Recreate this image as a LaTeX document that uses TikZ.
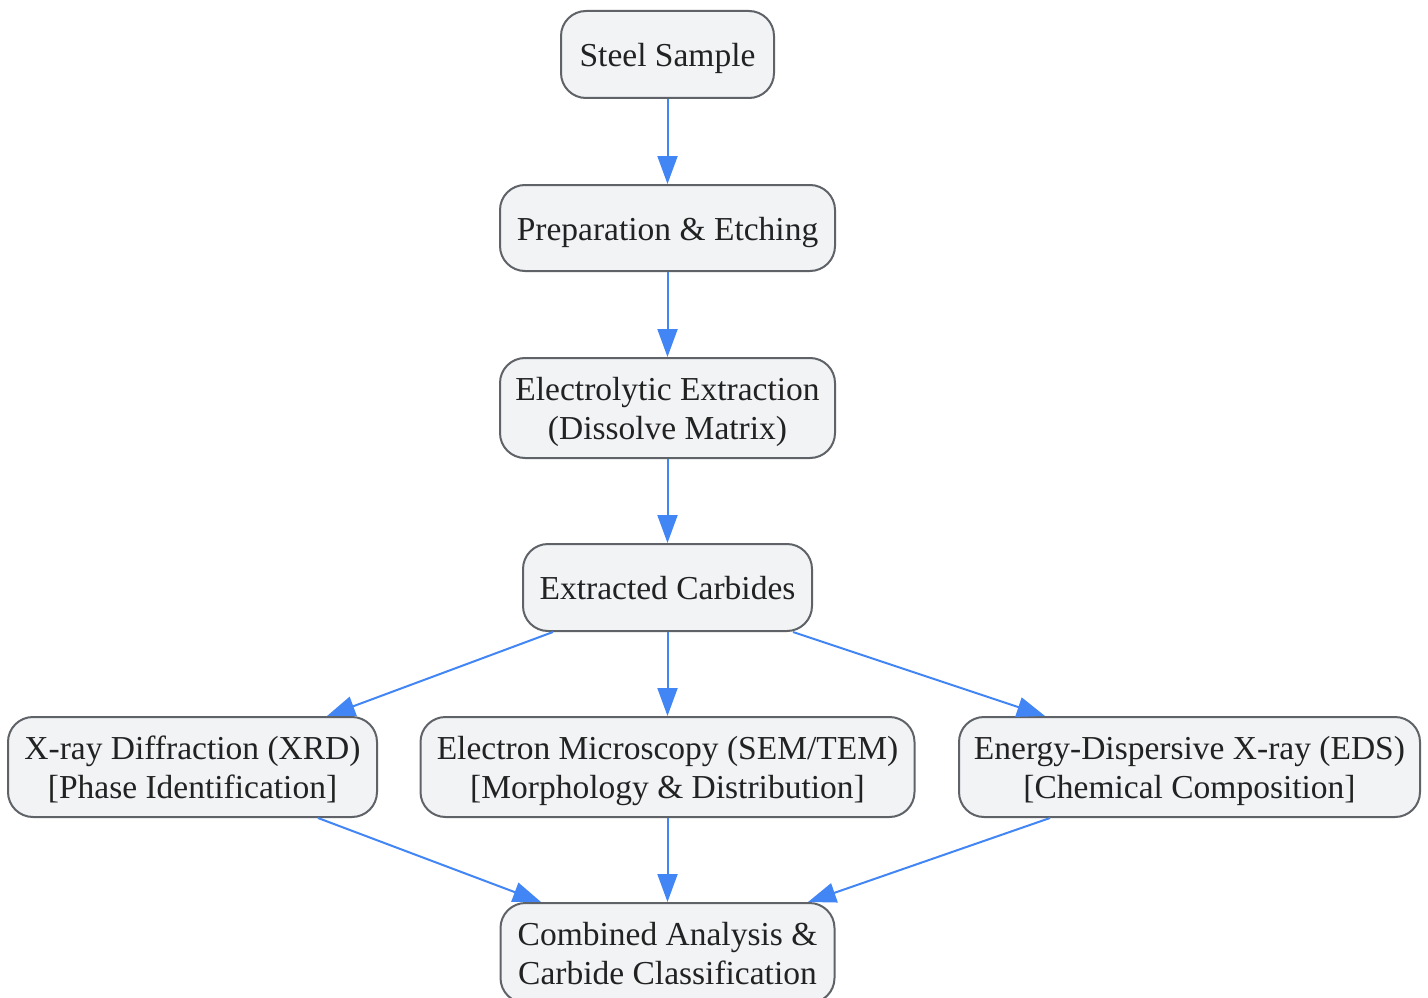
\documentclass[tikz,border=0pt]{standalone}
\usepackage{fontspec}
\setmainfont{Liberation Serif}
\usetikzlibrary{arrows.meta}
\definecolor{nodefill}{HTML}{F1F3F5}
\definecolor{nodeline}{HTML}{5F6368}
\definecolor{arrowblue}{HTML}{4285F4}
\definecolor{txt}{HTML}{222222}
\newcommand{\boxtext}[1]{\begin{tabular}{@{}c@{}}\rule{0pt}{36.4pt}#1\end{tabular}}
\tikzset{
  box/.style={draw=nodeline, fill=nodefill, line width=2pt, rounded corners=25pt,
    inner sep=0pt, text=txt,
    font=\fontsize{33.5}{39}\selectfont},
  conn/.style={draw=arrowblue, line width=2pt, -{Triangle[length=28pt,width=20pt]}}
}
\begin{document}
\begin{tikzpicture}[x=1pt,y=-1pt]
\useasboundingbox (0,0) rectangle (1428,998);
\node[box, minimum width=213pt, minimum height=87pt] (steel) at (667.5,54.5) {\boxtext{Steel Sample}};
\node[box, minimum width=335pt, minimum height=86pt] (prep) at (667.5,228) {\boxtext{Preparation \& Etching}};
\node[box, minimum width=335pt, minimum height=100pt] (elec) at (667.5,408) {\boxtext{Electrolytic Extraction\\(Dissolve Matrix)}};
\node[box, minimum width=289pt, minimum height=87pt] (carb) at (667.5,587.5) {\boxtext{Extracted Carbides}};
\node[box, minimum width=369pt, minimum height=100pt] (xrd) at (192.5,767) {\boxtext{X-ray Diffraction (XRD)\\{}[Phase Identification]}};
\node[box, minimum width=494pt, minimum height=100pt] (em) at (667.5,767) {\boxtext{Electron Microscopy (SEM/TEM)\\{}[Morphology \& Distribution]}};
\node[box, minimum width=461pt, minimum height=100pt] (eds) at (1189.5,767) {\boxtext{Energy-Dispersive X-ray (EDS)\\{}[Chemical Composition]}};
\node[box, minimum width=334pt, minimum height=100pt] (comb) at (667.5,953) {\boxtext{Combined Analysis \&\\Carbide Classification}};
\path[conn] (steel) -- (prep);
\path[conn] (prep) -- (elec);
\path[conn] (elec) -- (carb);
\path[conn] ([xshift=-114.5pt]carb.south) -- ([xshift=134.5pt]xrd.north);
\path[conn] (carb) -- (em);
\path[conn] ([xshift=125.5pt]carb.south) -- ([xshift=-144.5pt]eds.north);
\path[conn] ([xshift=125.5pt]xrd.south) -- ([xshift=-126.5pt]comb.north);
\path[conn] (em) -- (comb);
\path[conn] ([xshift=-139.5pt]eds.south) -- ([xshift=140.5pt]comb.north);
\end{tikzpicture}
\end{document}
